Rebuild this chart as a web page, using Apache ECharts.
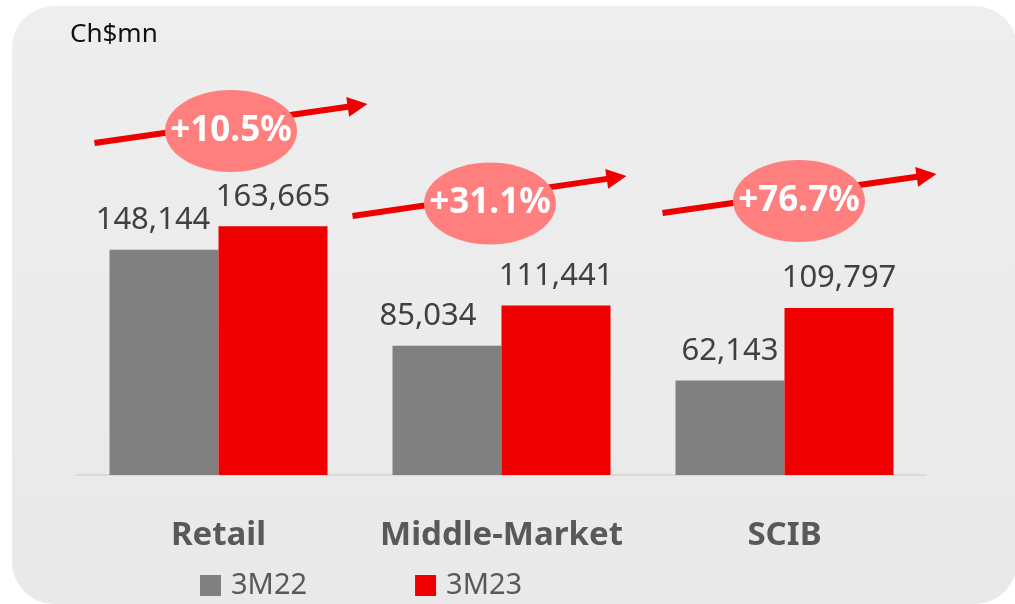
<!DOCTYPE html>
<html>
<head>
<meta charset="utf-8">
<script src="https://cdn.jsdelivr.net/npm/echarts@6/dist/echarts.min.js"></script>
<style>
html,body{margin:0;padding:0;background:#ffffff;}
#chart{width:1015px;height:604px;}
</style>
</head>
<body>
<div id="chart"></div>
<script>
// ---- data ----
const categories = ['Retail', 'Middle-Market', 'SCIB'];
const seriesNames = ['3M22', '3M23'];
const values3M22 = [148144, 85034, 62143];
const values3M23 = [163665, 111441, 109797];
const growthLabels = ['+10.5%', '+31.1%', '+76.7%'];
const unitLabel = 'Ch$mn';

// ---- layout (pixel offsets relative to each category centre) ----
const grayLabelShift = [-11, -19, 0];
const arrowLayout = [
  {sx: -124, sy: 143, tx: 149, ty: 104, ex: 12.5, ey: 131},
  {sx: -149, sy: 216, tx: 125, ty: 176, ex: -11.5, ey: 203.5},
  {sx: -122, sy: 213, tx: 152, ty: 174, ex: 14.5, ey: 201}
];

const GRAY = '#808080';
const RED = '#ee0000';
const FONT = 'Noto Sans';

const chart = echarts.init(document.getElementById('chart'), null, {renderer: 'canvas'});

const labelBase = {
  show: true,
  position: 'top',
  distance: 14,
  fontFamily: FONT,
  fontSize: 31,
  color: '#404040',
  formatter: p => p.value.toLocaleString('en-US')
};

const option = {
  backgroundColor: '#ffffff',
  animation: false,
  grid: {left: 77, right: 89, top: 171, bottom: 129, containLabel: false},
  xAxis: {
    type: 'category',
    data: categories,
    axisLine: {show: true, lineStyle: {color: '#d9d9d9', width: 2}},
    axisTick: {show: false},
    axisLabel: {
      interval: 0,
      margin: 44,
      fontFamily: FONT,
      fontSize: 33,
      fontWeight: 'bold',
      color: '#595959'
    }
  },
  yAxis: {
    type: 'value', min: 0, max: 200000,
    show: false, splitLine: {show: false}
  },
  legend: {
    data: seriesNames,
    left: 200,
    top: 571,
    padding: 0,
    icon: 'rect',
    itemWidth: 21,
    itemHeight: 21,
    itemGap: 108,
    textStyle: {fontFamily: FONT, fontSize: 29, color: '#595959', padding: [0, 0, 0, 5]}
  },
  series: [
    {
      name: seriesNames[0],
      type: 'bar',
      barWidth: 109,
      barGap: '0%',
      itemStyle: {color: GRAY},
      label: labelBase,
      data: values3M22.map((v, i) => ({value: v, label: {offset: [grayLabelShift[i], 0]}}))
    },
    {
      name: seriesNames[1],
      type: 'bar',
      barWidth: 109,
      barGap: '0%',
      itemStyle: {color: RED},
      label: labelBase,
      data: values3M23
    }
  ]
};
chart.setOption(option);

// ---- annotations: background, unit, growth arrows ----
function buildGraphics() {
  const els = [];
  els.push({
    type: 'rect', z: -10, silent: true,
    shape: {x: 12, y: 6, width: 1005, height: 598, r: 42},
    style: {fill: new echarts.graphic.LinearGradient(0, 0, 0, 1, [
      {offset: 0, color: '#eeeeee'}, {offset: 1, color: '#e9e9e9'}
    ])}
  });
  els.push({
    type: 'text', z: 5, silent: true, x: 70, y: 35,
    style: {text: unitLabel, font: '26px "Noto Sans"', fill: '#111111', verticalAlign: 'middle'}
  });
  categories.forEach((c, i) => {
    const cx = chart.convertToPixel({xAxisIndex: 0}, c);
    const a = arrowLayout[i];
    const x1 = cx + a.sx, y1 = a.sy, x2 = cx + a.tx, y2 = a.ty;
    const dx = x2 - x1, dy = y2 - y1, len = Math.sqrt(dx * dx + dy * dy);
    const ux = dx / len, uy = dy / len, nx = -uy, ny = ux;
    const hl = 20, hw = 10;
    const bx = x2 - ux * hl, by = y2 - uy * hl;
    els.push({
      type: 'line', z: 10, silent: true,
      shape: {x1: x1, y1: y1, x2: bx + ux * 2, y2: by + uy * 2},
      style: {stroke: RED, lineWidth: 6}
    });
    els.push({
      type: 'polygon', z: 10, silent: true,
      shape: {points: [[x2, y2], [bx + nx * hw, by + ny * hw], [bx - nx * hw, by - ny * hw]]},
      style: {fill: RED}
    });
    els.push({
      type: 'ellipse', z: 11, silent: true,
      shape: {cx: cx + a.ex, cy: a.ey, rx: 66, ry: 41},
      style: {fill: '#ff7f7f'}
    });
    els.push({
      type: 'text', z: 12, silent: true, x: cx + a.ex, y: a.ey,
      style: {text: growthLabels[i], font: 'bold 35px "Noto Sans"', fill: '#ffffff', align: 'center', verticalAlign: 'middle'}
    });
  });
  return els;
}
chart.setOption({graphic: {elements: buildGraphics()}});
</script>
</body>
</html>
